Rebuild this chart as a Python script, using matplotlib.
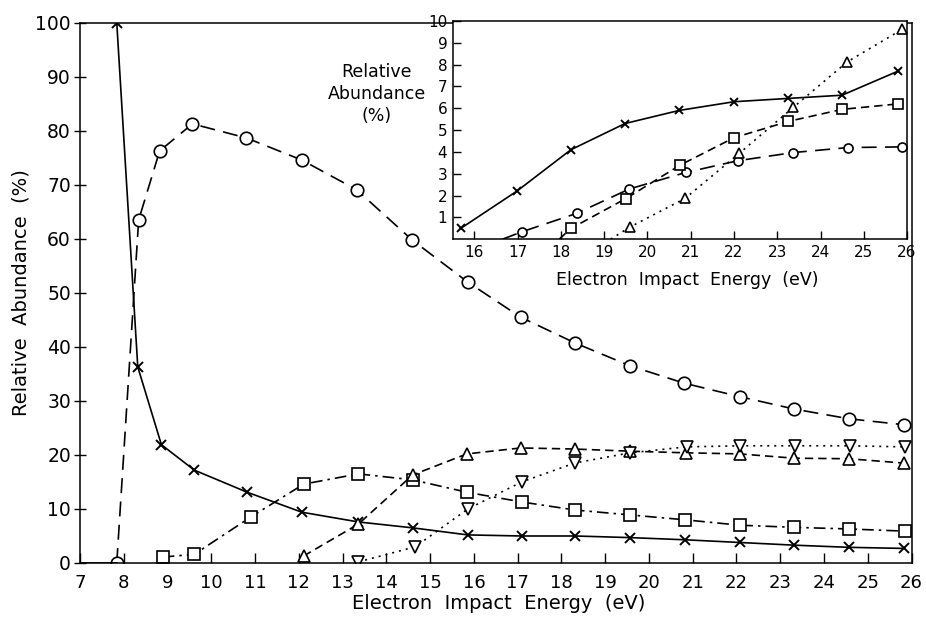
import matplotlib.pyplot as plt
import numpy as np

# main panel: electron impact energy (eV) vs relative abundance (%)
x_cross = [7.84, 8.32, 8.86, 9.61, 10.82, 12.07, 13.36, 14.61, 15.86, 17.09,
           18.32, 19.57, 20.82, 22.07, 23.32, 24.57, 25.82]
y_cross = [100, 36.3, 21.9, 17.2, 13.1, 9.4, 7.6, 6.5, 5.2, 5.0,
           5.0, 4.7, 4.3, 3.8, 3.3, 2.9, 2.7]

x_circle = [7.84, 8.34, 8.82, 9.57, 10.8, 12.07, 13.32, 14.59, 15.86, 17.07,
            18.32, 19.57, 20.8, 22.07, 23.32, 24.57, 25.82]
y_circle = [0, 63.5, 76.3, 81.3, 78.7, 74.6, 69.1, 59.8, 52.0, 45.5,
            40.7, 36.5, 33.3, 30.8, 28.5, 26.7, 25.6]

x_square = [8.89, 9.61, 10.9, 12.11, 13.36, 14.6, 15.84, 17.09, 18.32, 19.57,
            20.82, 22.07, 23.32, 24.57, 25.84]
y_square = [1.1, 1.6, 8.5, 14.6, 16.5, 15.4, 13.1, 11.3, 9.8, 8.9,
            8.0, 7.0, 6.6, 6.3, 5.9]

x_tri_up = [12.11, 13.36, 14.6, 15.84, 17.07, 18.3, 19.57, 20.84, 22.07, 23.32,
            24.57, 25.82]
y_tri_up = [1.3, 7.2, 16.3, 20.2, 21.3, 21.1, 20.7, 20.4, 20.2, 19.4,
            19.3, 18.5]

x_tri_dn = [13.36, 14.66, 15.86, 17.09, 18.3, 19.57, 20.86, 22.09, 23.34, 24.59,
            25.84]
y_tri_dn = [0.2, 3.0, 10.0, 15.0, 18.5, 20.4, 21.5, 21.7, 21.7, 21.7, 21.5]

# inset panel (expanded scale, 0-10 %)
xi_cross = [15.68, 16.98, 18.23, 19.48, 20.73, 22.0, 23.24, 24.5, 25.79]
yi_cross = [0.49, 2.2, 4.1, 5.3, 5.9, 6.3, 6.45, 6.6, 7.7]

xi_circle = [17.1, 18.36, 19.58, 20.89, 22.1, 23.37, 24.64, 25.89]
yi_circle = [0.34, 1.18, 2.3, 3.06, 3.6, 3.97, 4.2, 4.23]

xi_square = [18.23, 19.5, 20.76, 22.0, 23.26, 24.5, 25.79]
yi_square = [0.49, 1.86, 3.4, 4.65, 5.4, 5.95, 6.2]

xi_tri = [19.6, 20.87, 22.12, 23.37, 24.62, 25.89]
yi_tri = [0.56, 1.87, 3.93, 6.04, 8.13, 9.62]

main_xticks = np.arange(7, 27)
main_yticks = np.arange(0, 101, 10)
inset_xticks = np.arange(16, 27)
inset_yticks = np.arange(1, 11)

plt.rcParams['font.family'] = 'DejaVu Sans'

fig = plt.figure(figsize=(9.26, 6.18), dpi=100)
ax = fig.add_axes([0.0864, 0.089, 0.898, 0.874])

lw = 1.2
mk = dict(markerfacecolor='white', markeredgecolor='black', markeredgewidth=1.2)

ax.plot(x_cross, y_cross, '-', color='black', lw=lw, marker='x', ms=7, mew=1.4)
ax.plot(x_circle, y_circle, color='black', lw=lw, dashes=(9, 5), marker='o', ms=9, **mk)
ax.plot(x_square, y_square, color='black', lw=lw, dashes=(7, 3, 1.5, 3), marker='s', ms=9, **mk)
ax.plot(x_tri_up, y_tri_up, color='black', lw=lw, dashes=(5, 3), marker='^', ms=9, **mk)
ax.plot(x_tri_dn, y_tri_dn, color='black', lw=lw, dashes=(1.2, 3), marker='v', ms=9, **mk)
ax.plot([7, 7.84], [0, 0], '-', color='black', lw=lw)

ax.set_xlim(7, 26)
ax.set_ylim(0, 100)
ax.set_xticks(main_xticks)
ax.set_yticks(main_yticks)
ax.tick_params(axis='x', direction='in', length=7, width=1, labelsize=13, pad=8)
ax.tick_params(axis='y', direction='inout', length=9, width=1, labelsize=13.5, pad=2)
for s in ax.spines.values():
    s.set_linewidth(1.1)

ax.set_xlabel('Electron  Impact  Energy  (eV)', fontsize=14)
ax.xaxis.set_label_coords(0.504, -0.057)
ax.set_ylabel('Relative  Abundance  (%)', fontsize=14)
ax.yaxis.set_label_coords(-0.06, 0.5)

# inset
ax_in = fig.add_axes([0.489, 0.613, 0.4905, 0.353])
ax_in.set_facecolor('white')
ax_in.plot(xi_cross, yi_cross, '-', color='black', lw=lw, marker='x', ms=6, mew=1.4)
ax_in.plot([16.65] + xi_circle, [0] + yi_circle, color='black', lw=lw, dashes=(9, 5),
           marker='o', ms=6.5, markevery=list(range(1, len(xi_circle) + 1)), **mk)
ax_in.plot([17.96] + xi_square, [0] + yi_square, color='black', lw=lw, dashes=(5, 3),
           marker='s', ms=6.5, markevery=list(range(1, len(xi_square) + 1)), **mk)
ax_in.plot([19.15] + xi_tri, [0] + yi_tri, color='black', lw=lw, dashes=(1.2, 3),
           marker='^', ms=6.5, markevery=list(range(1, len(xi_tri) + 1)), **mk)

ax_in.set_xlim(15.5, 26)
ax_in.set_ylim(0, 10)
ax_in.set_xticks(inset_xticks)
ax_in.set_yticks(inset_yticks)
ax_in.tick_params(axis='both', direction='in', length=6, width=1, labelsize=11, pad=4)
for s in ax_in.spines.values():
    s.set_linewidth(1.1)

ax_in.set_xlabel('Electron  Impact  Energy  (eV)', fontsize=12.5)
ax_in.xaxis.set_label_coords(0.516, -0.145)
ax_in.text(-0.168, 0.665, 'Relative\nAbundance\n(%)', transform=ax_in.transAxes,
           ha='center', va='center', fontsize=12.5, linespacing=1.3)

fig.savefig('out.png', dpi=100)
